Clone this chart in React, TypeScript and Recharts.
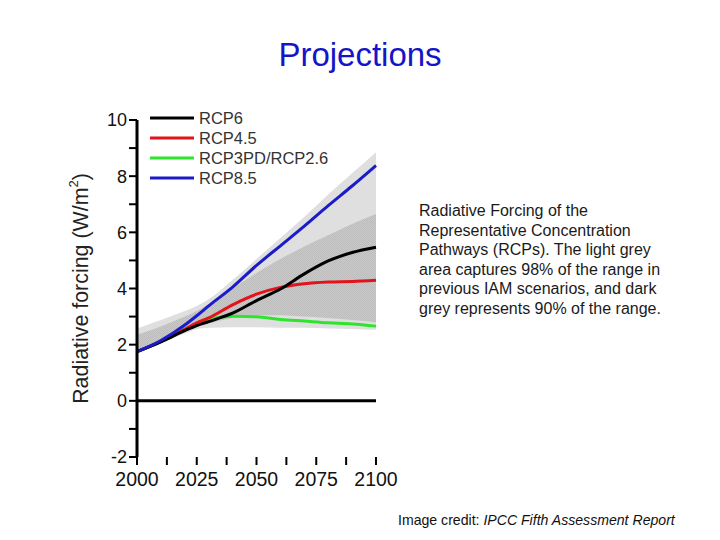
import { ComposedChart, Area, Line, XAxis, YAxis, ReferenceLine, Legend } from 'recharts'

// radiative forcing (W/m2) per scenario
const YEARS = [2000, 2010, 2020, 2025, 2030, 2040, 2050, 2060, 2070, 2080, 2090, 2100]
const RCP85 = [1.75, 2.15, 2.7, 3.03, 3.38, 4.05, 4.82, 5.52, 6.22, 6.95, 7.65, 8.38]
const RCP6 = [1.75, 2.1, 2.5, 2.68, 2.82, 3.12, 3.57, 3.98, 4.52, 4.98, 5.28, 5.47]
const RCP45 = [1.75, 2.12, 2.55, 2.78, 2.95, 3.42, 3.8, 4.04, 4.17, 4.23, 4.25, 4.29]
const RCP26 = [1.75, 2.12, 2.55, 2.74, 2.9, 3.01, 2.99, 2.9, 2.84, 2.78, 2.74, 2.66]

// 98% range of earlier IAM scenarios (light grey)
const RANGE98_LOW = [1.72, 2.05, 2.4, 2.55, 2.6, 2.62, 2.62, 2.6, 2.6, 2.58, 2.56, 2.53]
const RANGE98_HIGH = [2.58, 2.88, 3.2, 3.38, 3.62, 4.3, 5.05, 5.8, 6.55, 7.35, 8.1, 8.85]
// 90% range (dark grey)
const RANGE90_LOW = [1.8, 2.1, 2.45, 2.62, 2.75, 2.95, 3.05, 3.05, 3.0, 2.95, 2.88, 2.8]
const RANGE90_HIGH = [2.35, 2.65, 3.0, 3.2, 3.45, 4.0, 4.55, 5.05, 5.5, 5.9, 6.3, 6.65]

const X_TICKS = [2000, 2012.5, 2025, 2037.5, 2050, 2062.5, 2075, 2087.5, 2100]
const Y_TICKS = [-2, -1, 0, 1, 2, 3, 4, 5, 6, 7, 8, 9, 10]

const SERIES = [
  { key: 'rcp6', name: 'RCP6', color: '#000000' },
  { key: 'rcp45', name: 'RCP4.5', color: '#e3121b' },
  { key: 'rcp26', name: 'RCP3PD/RCP2.6', color: '#2ee52e' },
  { key: 'rcp85', name: 'RCP8.5', color: '#1b1bc9' },
]
// drawing order, blue ends up on top
const DRAW_ORDER = ['rcp26', 'rcp45', 'rcp6', 'rcp85']

const data = YEARS.map((year, i) => ({
  year,
  range98: [RANGE98_LOW[i], RANGE98_HIGH[i]],
  range90: [RANGE90_LOW[i], RANGE90_HIGH[i]],
  rcp85: RCP85[i],
  rcp6: RCP6[i],
  rcp45: RCP45[i],
  rcp26: RCP26[i],
}))

const FONT = '"Liberation Sans", Arial, Helvetica, sans-serif'

function LegendBox() {
  return (
    <div style={{ fontFamily: FONT }}>
      {SERIES.map((s) => (
        <div key={s.key} style={{ display: 'flex', alignItems: 'center', height: 20 }}>
          <svg width={44} height={6} style={{ marginRight: 5 }}>
            <line x1={0} y1={3} x2={44} y2={3} stroke={s.color} strokeWidth={3} />
          </svg>
          <span style={{ fontSize: 16.5, color: '#333', lineHeight: '20px' }}>{s.name}</span>
        </div>
      ))}
    </div>
  )
}

function YLabel(props: any) {
  const vb = props.viewBox
  const cx = vb.x + 4
  const cy = vb.y + vb.height / 2
  return (
    <text
      x={cx}
      y={cy}
      transform={`rotate(-90, ${cx}, ${cy})`}
      textAnchor="middle"
      dominantBaseline="central"
      fontSize={21.4}
      fontFamily={FONT}
      fill="#222"
    >
      Radiative forcing (W/m<tspan dy={-8} fontSize={13}>2</tspan><tspan dy={8}>)</tspan>
    </text>
  )
}

export default function App() {
  return (
    <div style={{ position: 'absolute', left: 0, top: 0, width: 720, height: 540, background: '#fff', fontFamily: FONT }}>
      <div style={{ position: 'absolute', left: 0, top: 37, width: 720, textAlign: 'center', fontSize: 33, lineHeight: '35px', color: '#1414c8' }}>
        Projections
      </div>

      <ComposedChart width={720} height={540} data={data} margin={{ top: 120, right: 344, bottom: 53, left: 77 }}>
        <defs>
          {/* dithered fill for the 90% band */}
          <pattern id="dither90" width={2} height={2} patternUnits="userSpaceOnUse">
            <rect x={0} y={0} width={2} height={2} fill="#cacaca" />
            <rect x={0} y={0} width={1} height={1} fill="#bcbcbc" />
            <rect x={1} y={1} width={1} height={1} fill="#bcbcbc" />
          </pattern>
        </defs>
        <XAxis
          dataKey="year"
          type="number"
          domain={[2000, 2100]}
          ticks={X_TICKS}
          axisLine={false}
          tickLine={{ stroke: '#000', strokeWidth: 2 }}
          tickSize={8}
          tickMargin={7}
          height={30}
          interval={0}
          tick={{ fill: '#111', fontSize: 19.5, fontFamily: FONT }}
          tickFormatter={(v: number) => (v % 25 === 0 ? String(v) : '')}
        />
        <YAxis
          type="number"
          domain={[-2, 10]}
          ticks={Y_TICKS}
          interval={0}
          width={60}
          axisLine={{ stroke: '#000', strokeWidth: 3 }}
          tickLine={{ stroke: '#000', strokeWidth: 2 }}
          tickSize={8}
          tickMargin={2}
          tick={{ fill: '#111', fontSize: 18, fontFamily: FONT }}
          tickFormatter={(v: number) => (v % 2 === 0 ? String(v) : '')}
          label={<YLabel />}
        />
        <Area
          dataKey="range98"
          type="monotone"
          stroke="none"
          fill="#dfdfdf"
          fillOpacity={1}
          legendType="none"
          isAnimationActive={false}
        />
        <Area
          dataKey="range90"
          type="monotone"
          stroke="none"
          fill="url(#dither90)"
          fillOpacity={1}
          legendType="none"
          isAnimationActive={false}
        />
        <ReferenceLine y={0} stroke="#000" strokeWidth={3} />
        {DRAW_ORDER.map((k) => {
          const s = SERIES.find((x) => x.key === k)!
          return (
            <Line
              key={k}
              dataKey={k}
              name={s.name}
              type="monotone"
              stroke={s.color}
              strokeWidth={3}
              dot={false}
              activeDot={false}
              isAnimationActive={false}
            />
          )
        })}
        <Legend
          layout="horizontal"
          verticalAlign="middle"
          align="center"
          content={() => <LegendBox />}
          wrapperStyle={{ left: 150, top: 108, width: 220, height: 80 }}
        />
      </ComposedChart>

      <div style={{ position: 'absolute', left: 419, top: 201, fontSize: 16, lineHeight: '19.5px', color: '#1a1a1a' }}>
        Radiative Forcing of the<br />
        Representative Concentration<br />
        Pathways (RCPs). The light grey<br />
        area captures 98% of the range in<br />
        previous IAM scenarios, and dark<br />
        grey represents 90% of the range.
      </div>

      <div style={{ position: 'absolute', left: 398, top: 511, fontSize: 14.1, lineHeight: '18px', color: '#111' }}>
        Image credit: <i>IPCC Fifth Assessment Report</i>
      </div>
    </div>
  )
}
